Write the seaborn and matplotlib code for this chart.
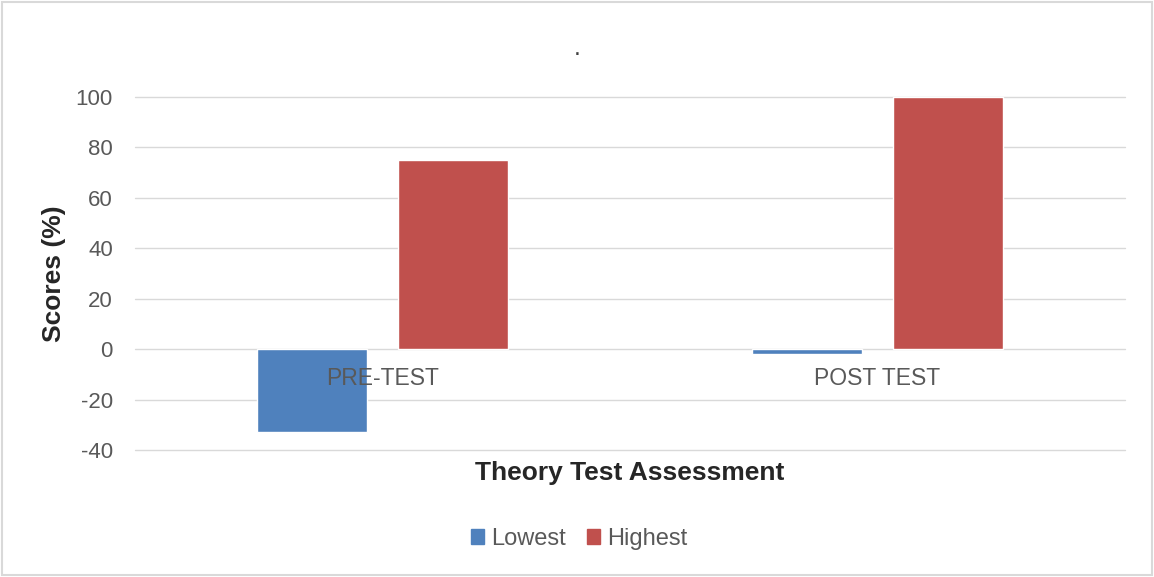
import matplotlib
matplotlib.use("Agg")
import matplotlib.pyplot as plt
import seaborn as sns
import pandas as pd
from matplotlib.patches import Rectangle

# --- data ---
categories = ["PRE-TEST", "POST TEST"]
lowest = [-33, -2]
highest = [75, 100]
series_names = ["Lowest", "Highest"]
y_ticks = [-40, -20, 0, 20, 40, 60, 80, 100]

df = pd.DataFrame({
    "cat": categories * 2,
    "series": [series_names[0]] * 2 + [series_names[1]] * 2,
    "value": lowest + highest,
})

sns.set_style("white")
plt.rcParams["font.family"] = ["Liberation Sans", "DejaVu Sans"]

fig = plt.figure(figsize=(11.54, 5.77), dpi=100)
ax = fig.add_axes([0.1170, 0.2201, 0.8579, 0.6118])

sns.barplot(data=df, x="cat", y="value", hue="series", order=categories,
            hue_order=series_names, palette=["#4F81BD", "#C0504D"],
            width=0.57, gap=0.22, saturation=1, ax=ax, legend=False)

ax.set_ylim(-40, 100)
ax.set_xlim(-0.5, 1.5)
ax.set_yticks(y_ticks)
ax.set_yticklabels([str(t) for t in y_ticks])
ax.tick_params(axis="y", length=0, labelsize=16, labelcolor="#595959", pad=16)
ax.set_xticks([])
for i, c in enumerate(categories):
    ax.annotate(c, xy=(i, 0), xytext=(0, -21), textcoords="offset points",
                ha="center", va="center", fontsize=16.5, color="#595959")

ax.grid(axis="y", color="#d9d9d9", linewidth=1)
for gl in ax.get_ygridlines():
    gl.set_clip_on(False)
ax.set_axisbelow(True)
for s in ax.spines.values():
    s.set_visible(False)

ax.set_xlabel("Theory Test Assessment", fontsize=19, fontweight="bold", labelpad=8)
ax.set_ylabel("Scores (%)", fontsize=19, fontweight="bold", labelpad=7)
fig.text(0.5, 0.916, ".", fontsize=18, color="#404040", ha="center", va="center")

handles = [Rectangle((0, 0), 1, 1, color=c) for c in ["#4F81BD", "#C0504D"]]
leg = fig.legend(handles, series_names, loc="center", bbox_to_anchor=(0.502, 0.066), ncol=2,
                 frameon=False, fontsize=17, handlelength=0.55, handleheight=0.55,
                 handletextpad=0.3, columnspacing=0.9)
for t in leg.get_texts():
    t.set_color("#595959")

fig.patches.append(Rectangle((0.002, 0.003), 0.996, 0.994, transform=fig.transFigure,
                             fill=False, edgecolor="#d9d9d9", linewidth=1.5))

fig.savefig("out.png", dpi=100)
